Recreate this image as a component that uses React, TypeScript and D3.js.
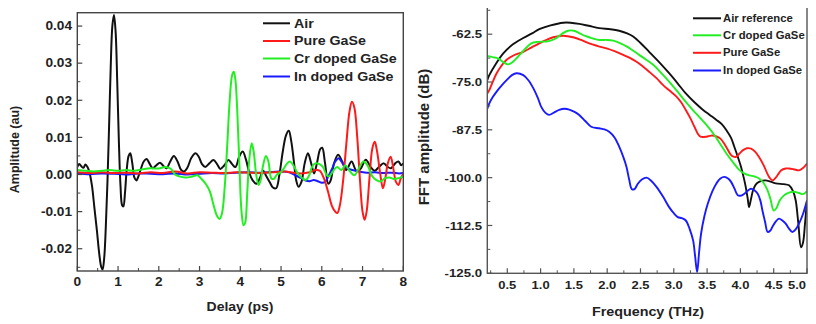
import React from "react";
import * as d3 from "d3";

// ---------- Left panel: time-domain signals ----------
const airDelay = [0,0.05,0.1,0.15,0.2,0.25,0.3,0.36,0.42,0.48,0.54,0.59,0.62,0.66,0.7,0.74,0.78,0.82,0.86,0.9,0.94,0.98,1.02,1.06,1.1,1.13,1.17,1.21,1.26,1.3,1.35,1.4,1.45,1.5,1.56,1.63,1.7,1.77,1.85,1.94,2.03,2.12,2.19,2.28,2.37,2.46,2.55,2.62,2.7,2.8,2.9,2.98,3.06,3.14,3.24,3.34,3.43,3.51,3.61,3.71,3.8,3.88,3.98,4.06,4.14,4.22,4.3,4.4,4.48,4.56,4.64,4.72,4.8,4.88,4.96,5.04,5.12,5.19,5.25,5.32,5.37,5.43,5.5,5.58,5.66,5.74,5.81,5.88,5.96,6.01,6.08,6.16,6.22,6.3,6.4,6.5,6.6,6.73,6.85,6.95,7.08,7.2,7.3,7.4,7.52,7.62,7.7,7.8,7.88,7.95,8];
const airAmp = [0.002,0.0028,0.0022,0.0018,0.0027,0.002,0.0005,-0.003,-0.009,-0.015,-0.0215,-0.025,-0.0256,-0.0225,-0.014,-0.002,0.013,0.029,0.04,0.043,0.0385,0.025,0.009,-0.003,-0.0083,-0.0086,-0.005,0.001,0.005,0.0057,0.003,-0.0008,-0.0016,-0.0005,0.0015,0.0035,0.0042,0.003,0.0017,0.0025,0.0032,0.0022,0.0017,0.0035,0.005,0.0035,0.0012,0.0008,0.0018,0.0045,0.0057,0.0048,0.0028,0.002,0.003,0.0039,0.0028,0.0015,0.0025,0.0039,0.0028,0.002,0.005,0.0062,0.004,0.0005,-0.0015,-0.0025,-0.001,0.001,-0.0005,-0.002,-0.0035,-0.0037,0,0.006,0.0105,0.0118,0.009,0.003,-0.0015,-0.0033,-0.002,0.003,0.0057,0.003,0.0003,0.003,0.0068,0.0072,0.003,-0.0025,-0.0015,0.003,0.0053,0.0035,0.0012,0.0035,0.001,0.0015,0.004,0.002,0.001,0.002,0.003,0.002,0.0017,0.003,0.0035,0.0025,0.003];

const pureDelay = [0,0.3,0.6,0.9,1.2,1.5,1.8,2.1,2.4,2.7,3,3.3,3.6,3.9,4.2,4.5,4.8,5.1,5.3,5.5,5.7,5.85,5.95,6.05,6.15,6.25,6.33,6.38,6.44,6.52,6.6,6.68,6.74,6.8,6.87,6.94,7,7.05,7.1,7.17,7.24,7.3,7.36,7.43,7.5,7.56,7.62,7.69,7.75,7.82,7.88,7.94,8];
const pureAmp = [0.0006,0.0004,0.0006,0.0004,0.0005,0.0003,0.0006,0.0004,0.0008,0.0003,0.0006,0.0005,0.0004,0.0006,0.0005,0.0004,0.0006,0.0008,0.0005,0.0003,0.0006,0.0012,0.001,-0.001,-0.0045,-0.0085,-0.01,-0.0104,-0.0085,-0.002,0.008,0.017,0.0196,0.018,0.01,-0.002,-0.01,-0.0122,-0.01,-0.001,0.007,0.0088,0.006,0.0005,-0.0037,-0.001,0.003,0.0048,0.002,-0.002,-0.0028,-0.001,0.0002];

const crDelay = [0,0.2,0.4,0.6,0.8,1,1.2,1.4,1.6,1.8,2,2.15,2.3,2.4,2.5,2.65,2.8,2.95,3.05,3.15,3.25,3.35,3.43,3.49,3.55,3.62,3.68,3.74,3.8,3.84,3.88,3.93,3.98,4.03,4.08,4.12,4.17,4.22,4.28,4.33,4.39,4.45,4.5,4.56,4.63,4.69,4.76,4.82,4.9,4.98,5.06,5.15,5.22,5.3,5.4,5.5,5.6,5.68,5.76,5.84,5.94,6.03,6.12,6.18,6.28,6.38,6.48,6.58,6.68,6.8,6.9,7.02,7.12,7.24,7.34,7.44,7.55,7.66,7.76,7.88,8];
const crAmp = [0.0012,0.001,0.0008,0.001,0.0012,0.001,0.0012,0.001,0.0014,0.0017,0.0016,0.002,0.0015,0,-0.0005,-0.0008,-0.0006,-0.0002,-0.0012,-0.0025,-0.0045,-0.0085,-0.0112,-0.012,-0.0105,-0.003,0.008,0.02,0.0268,0.0277,0.0255,0.016,0.002,-0.01,-0.0137,-0.013,-0.005,0.004,0.0084,0.006,0,-0.0028,-0.0015,0.0025,0.005,0.0035,-0.001,-0.0012,0,0.0005,0.0015,0.003,0.0035,0.0025,0.0005,-0.0008,-0.0015,-0.0005,0.002,0.003,0.0028,0.002,-0.0002,-0.0005,0.001,0.002,0.0012,0.0025,0.001,-0.0002,0.0015,0.0035,0.0025,-0.0005,-0.0015,-0.0019,-0.001,-0.0008,-0.0012,-0.001,-0.0005];

const inDelay = [0,0.3,0.6,0.9,1.2,1.5,1.8,2.1,2.4,2.7,3,3.3,3.6,3.9,4.2,4.5,4.8,5,5.2,5.35,5.5,5.6,5.7,5.8,5.9,6,6.08,6.16,6.25,6.33,6.41,6.48,6.56,6.64,6.75,6.9,7.1,7.3,7.5,7.7,7.9,8];
const inAmp = [0.0003,0.0001,0.0003,0.0002,0,0.0003,0.0002,0.0001,0.0003,0,0.0002,0.0004,0.0003,0.0005,0.0006,0.0005,0.0007,0.0008,0.0006,-0.0002,-0.001,-0.0016,-0.0018,-0.0015,-0.0018,-0.0022,-0.002,-0.0005,0.0015,0.0035,0.0044,0.0035,0.0022,0.0016,0.0012,0.0008,0.0005,0.0006,0.0004,0.0005,0.0003,0.0004];

const leftXTicks = [0,1,2,3,4,5,6,7,8];
const leftYTicks = [-0.02,-0.01,0,0.01,0.02,0.03,0.04];
const leftYLabels = ["-0.02","-0.01","0.00","0.01","0.02","0.03","0.04"];
const leftLegend = ["Air","Pure GaSe","Cr doped GaSe","In doped GaSe"];

// ---------- Right panel: FFT spectra ----------
const airFreq = [0.2,0.23,0.33,0.44,0.58,0.74,0.88,0.98,1.15,1.34,1.45,1.58,1.72,1.88,2.05,2.18,2.3,2.39,2.5,2.63,2.78,2.93,3.06,3.18,3.31,3.44,3.54,3.64,3.72,3.79,3.86,3.91,3.96,4.01,4.05,4.08,4.11,4.13,4.16,4.19,4.23,4.28,4.38,4.53,4.65,4.73,4.79,4.83,4.87,4.91,4.94,4.97,5];
const airDb = [-74.5,-73.2,-70.2,-67.5,-65.2,-63.5,-62.2,-61.2,-60.2,-59.5,-59.5,-59.8,-60.3,-60.9,-61.2,-61.6,-62.3,-63.1,-64.8,-67.1,-69.8,-72.7,-75.4,-78,-80.3,-82.3,-83.6,-84.9,-86,-87.6,-89.6,-92,-94.5,-97.2,-100,-102.4,-105.5,-107.7,-105.5,-103.3,-101.8,-101.1,-100.7,-101.5,-101.7,-102,-103.5,-105.9,-112,-118.2,-117,-112,-106];

const crFreq = [0.2,0.28,0.36,0.44,0.51,0.58,0.66,0.76,0.86,0.96,1.09,1.18,1.24,1.32,1.41,1.5,1.58,1.66,1.73,1.8,1.88,2,2.09,2.2,2.29,2.38,2.48,2.58,2.69,2.81,2.93,3.06,3.18,3.28,3.38,3.49,3.59,3.69,3.79,3.89,3.99,4.07,4.14,4.21,4.28,4.34,4.4,4.45,4.5,4.54,4.59,4.65,4.72,4.8,4.88,4.94,5];
const crDb = [-68.2,-68.5,-68.8,-69.8,-70.4,-69.8,-68.4,-66.5,-64.9,-64.5,-64.4,-64,-63.5,-62.4,-61.6,-61.6,-62.2,-62.9,-63.3,-63.7,-64,-64,-64.2,-64.9,-65.7,-66.7,-67.9,-69.1,-70.5,-72.6,-74.9,-77.6,-80.2,-82.2,-84.1,-86.2,-88.4,-91,-93.7,-96,-98.1,-99,-99.4,-99.7,-100.2,-101.2,-103,-105.5,-108.6,-108,-106,-104.7,-104,-103.7,-104,-104.3,-103.5];

const pureFreq = [0.2,0.23,0.28,0.34,0.41,0.49,0.6,0.74,0.86,0.98,1.09,1.19,1.34,1.49,1.61,1.73,1.86,1.99,2.12,2.24,2.34,2.44,2.54,2.63,2.74,2.84,2.94,3.04,3.11,3.18,3.25,3.31,3.36,3.4,3.49,3.56,3.64,3.7,3.76,3.82,3.87,3.93,3.98,4.04,4.1,4.16,4.22,4.28,4.35,4.43,4.48,4.54,4.61,4.68,4.73,4.8,4.88,4.94,5];
const pureDb = [-78,-77.1,-75,-72.7,-70.8,-69.2,-68,-67.1,-66,-64.9,-64,-63.3,-62.9,-63.3,-64,-64.9,-65.6,-66.2,-67,-67.9,-68.7,-69.7,-71,-72.3,-74,-75.8,-77.3,-78.8,-80.3,-82.3,-84.5,-86.7,-88.5,-89.3,-89.3,-89,-89.2,-89.8,-91.2,-93,-94.3,-94.6,-93.8,-92.8,-92.3,-92.4,-93.2,-94.6,-96.8,-99.8,-100.7,-99.8,-98.1,-97.6,-97.6,-97.8,-98.1,-97.5,-96.3];

const inFreq = [0.2,0.23,0.28,0.34,0.42,0.49,0.57,0.64,0.74,0.82,0.89,0.96,1.01,1.07,1.13,1.2,1.28,1.36,1.43,1.51,1.58,1.67,1.76,1.88,1.96,2.03,2.11,2.18,2.24,2.29,2.33,2.37,2.41,2.46,2.52,2.59,2.66,2.74,2.84,2.93,3,3.06,3.12,3.18,3.24,3.29,3.32,3.35,3.38,3.41,3.46,3.51,3.58,3.64,3.7,3.76,3.82,3.86,3.91,3.96,4.01,4.06,4.11,4.16,4.21,4.26,4.3,4.33,4.37,4.41,4.45,4.48,4.53,4.58,4.63,4.68,4.73,4.78,4.83,4.88,4.94,5];
const inDb = [-82,-80.6,-79,-77.5,-75.8,-74.5,-73.2,-72.7,-73.2,-74.6,-76.6,-79.2,-81.5,-83,-83.6,-83,-82.3,-82,-82.2,-82.8,-83.6,-85.2,-86.7,-87.1,-87.4,-88,-89.5,-91.9,-94.5,-97.2,-100.5,-103,-103,-101.6,-100.5,-100,-100.8,-102.4,-105,-107.7,-109.3,-110.3,-110.6,-111.2,-113.5,-116.4,-120.5,-124.7,-119.5,-114.6,-110,-106.8,-103.5,-101.5,-100.2,-99.8,-100.3,-101.1,-102.8,-104.6,-104.7,-104.2,-103.4,-102.9,-103.3,-104.2,-106,-108.5,-111.5,-114.2,-113.8,-112.9,-111.5,-110.7,-111.2,-112,-113.3,-114.2,-113.5,-112,-109.5,-106];

const rightXTicks = [0.5,1,1.5,2,2.5,3,3.5,4,4.5,5];
const rightXLabels = ["0.5","1.0","1.5","2.0","2.5","3.0","3.5","4.0","4.5","5.0"];
const rightYTicks = [-62.5,-75,-87.5,-100,-112.5,-125];
const rightYLabels = ["-62.5","-75.0","-87.5","-100.0","-112.5","-125.0"];
const rightLegend = ["Air reference","Cr doped GaSe","Pure GaSe","In doped GaSe"];

const BLACK = "#111111";
const RED = "#ff1a1a";
const GREEN = "#22ee22";
const BLUE = "#1a1aff";
const FONT = "Arial, 'Liberation Sans', Helvetica, sans-serif";
const SX = 1.12;

function HText(props: { x: number; y: number; size: number; anchor?: string; children: React.ReactNode }) {
  return (
    <text
      transform={`translate(${props.x},${props.y}) scale(${SX},1)`}
      fontSize={props.size}
      fontWeight="bold"
      fontFamily={FONT}
      textAnchor={props.anchor || "start"}
      dy="0.35em"
      fill="#222"
    >
      {props.children}
    </text>
  );
}

export default function App() {
  // left scales
  const lx = d3.scaleLinear().domain([0, 8]).range([77.3, 403.3]);
  const ly = d3.scaleLinear().domain([-0.026, 0.0436]).range([271, 12.7]);
  // right scales
  const rx = d3.scaleLinear().domain([0.2, 5.0]).range([487.3, 807]);
  const ry = d3.scaleLinear().domain([-125, -55]).range([273.3, 5.5]);

  const lLine = (xs: number[], ys: number[]) =>
    d3
      .line<number>()
      .x((_, i) => lx(xs[i]))
      .y((v) => ly(v))
      .curve(d3.curveCatmullRom.alpha(0.5))(ys) || "";
  const rLine = (xs: number[], ys: number[]) =>
    d3
      .line<number>()
      .x((_, i) => rx(xs[i]))
      .y((v) => ry(v))
      .curve(d3.curveCatmullRom.alpha(0.5))(ys) || "";

  const leftSeries = [
    { xs: airDelay, ys: airAmp, c: BLACK },
    { xs: inDelay, ys: inAmp, c: BLUE },
    { xs: pureDelay, ys: pureAmp, c: RED },
    { xs: crDelay, ys: crAmp, c: GREEN },
  ];
  const rightSeries = [
    { xs: airFreq, ys: airDb, c: BLACK },
    { xs: pureFreq, ys: pureDb, c: RED },
    { xs: crFreq, ys: crDb, c: GREEN },
    { xs: inFreq, ys: inDb, c: BLUE },
  ];
  const leftLegendColors = [BLACK, RED, GREEN, BLUE];
  const rightLegendColors = [BLACK, GREEN, RED, BLUE];
  const leftLegendY = [23.3, 41, 58.5, 76.5];
  const rightLegendY = [18.3, 35.3, 52.8, 70.5];

  const lxMinor = d3.range(0.5, 8, 1);
  const lyMinor = d3.range(-0.025, 0.0436, 0.005).filter((v) => Math.abs(Math.round(v * 200) % 2) === 1);
  const rxMinor = d3.range(0.25, 5.0, 0.5);
  const ryMinor = d3.range(-118.75, -55, 12.5);

  return (
    <svg width={800} height={316} style={{ display: "block", background: "#fff", overflow: "visible" }}>
      <defs>
        <clipPath id="lclip">
          <rect x={77.3} y={12.7} width={326} height={258.3} />
        </clipPath>
        <clipPath id="rclip">
          <rect x={487.3} y={5.5} width={319.7} height={267.8} />
        </clipPath>
      </defs>
      <g transform="translate(-8,-8)">
        {/* LEFT PANEL */}
        <g clipPath="url(#lclip)">
          {leftSeries.map((s, i) => (
            <path key={i} d={lLine(s.xs, s.ys)} fill="none" stroke={s.c} strokeWidth={2} strokeLinejoin="round" />
          ))}
        </g>
        <rect x={77.3} y={12.7} width={326} height={258.3} fill="none" stroke="#444" strokeWidth={1.4} />
        {leftXTicks.map((t) => (
          <g key={"lx" + t}>
            <line x1={lx(t)} x2={lx(t)} y1={271} y2={266} stroke="#444" strokeWidth={1.2} />
            <HText x={lx(t)} y={282} size={12.2} anchor="middle">{String(t)}</HText>
          </g>
        ))}
        {lxMinor.map((t) => (
          <line key={"lxm" + t} x1={lx(t)} x2={lx(t)} y1={271} y2={268} stroke="#444" strokeWidth={1} />
        ))}
        {leftYTicks.map((v, i) => (
          <g key={"ly" + v}>
            <line x1={77.3} x2={82.3} y1={ly(v)} y2={ly(v)} stroke="#444" strokeWidth={1.2} />
            <HText x={72} y={ly(v)} size={12.2} anchor="end">{leftYLabels[i]}</HText>
          </g>
        ))}
        {lyMinor.map((v) => (
          <line key={"lym" + v} x1={77.3} x2={80.3} y1={ly(v)} y2={ly(v)} stroke="#444" strokeWidth={1} />
        ))}
        <HText x={240} y={307} size={12.5} anchor="middle">Delay (ps)</HText>
        <text
          transform="translate(15,149.5) rotate(-90)"
          fontSize={12.5}
          fontWeight="bold"
          fontFamily={FONT}
          textAnchor="middle"
          dy="0.35em"
          fill="#222"
        >
          Amplitude (au)
        </text>
        {leftLegend.map((name, i) => (
          <g key={"ll" + i}>
            <line x1={263} x2={290} y1={leftLegendY[i]} y2={leftLegendY[i]} stroke={leftLegendColors[i]} strokeWidth={2} />
            <HText x={294} y={leftLegendY[i]} size={12.7}>{name}</HText>
          </g>
        ))}

        {/* RIGHT PANEL */}
        <g clipPath="url(#rclip)">
          {rightSeries.map((s, i) => (
            <path key={i} d={rLine(s.xs, s.ys)} fill="none" stroke={s.c} strokeWidth={1.9} strokeLinejoin="round" />
          ))}
        </g>
        <rect x={487.3} y={5.5} width={319.7} height={267.8} fill="none" stroke="#555" strokeWidth={1.4} />
        {rightXTicks.map((t, i) => (
          <g key={"rx" + t}>
            <line x1={rx(t)} x2={rx(t)} y1={273.3} y2={268.3} stroke="#555" strokeWidth={1.2} />
            <HText x={i === rightXTicks.length - 1 ? rx(t) - 10 : rx(t)} y={285} size={11.6} anchor="middle">{rightXLabels[i]}</HText>
          </g>
        ))}
        {rxMinor.map((t) => (
          <line key={"rxm" + t} x1={rx(t)} x2={rx(t)} y1={273.3} y2={270.3} stroke="#555" strokeWidth={1} />
        ))}
        {rightYTicks.map((v, i) => (
          <g key={"ry" + v}>
            <line x1={487.3} x2={492.3} y1={ry(v)} y2={ry(v)} stroke="#555" strokeWidth={1.2} />
            <HText x={482} y={ry(v)} size={11.8} anchor="end">{rightYLabels[i]}</HText>
          </g>
        ))}
        {ryMinor.map((v) => (
          <line key={"rym" + v} x1={487.3} x2={490.3} y1={ry(v)} y2={ry(v)} stroke="#555" strokeWidth={1} />
        ))}
        <HText x={648} y={312} size={12.8} anchor="middle">Frequency (THz)</HText>
        <text
          transform="translate(424,137) rotate(-90)"
          fontSize={15}
          fontWeight="bold"
          fontFamily={FONT}
          textAnchor="middle"
          dy="0.35em"
          fill="#222"
        >
          FFT amplitude (dB)
        </text>
        {rightLegend.map((name, i) => (
          <g key={"rl" + i}>
            <line x1={693} x2={721} y1={rightLegendY[i]} y2={rightLegendY[i]} stroke={rightLegendColors[i]} strokeWidth={2} />
            <HText x={723} y={rightLegendY[i]} size={10.1}>{name}</HText>
          </g>
        ))}
      </g>
    </svg>
  );
}
